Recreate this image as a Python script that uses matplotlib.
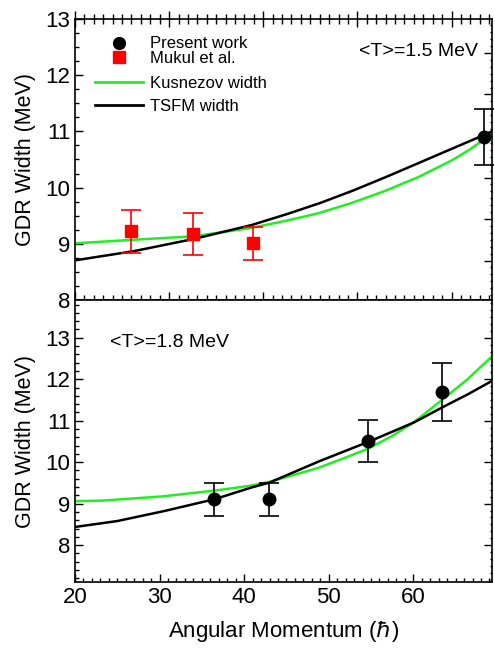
import numpy as np
import matplotlib
matplotlib.use('Agg')
from matplotlib import pyplot as plt
from matplotlib.ticker import MultipleLocator, NullFormatter
from matplotlib.lines import Line2D

plt.rcParams['font.family'] = ['Liberation Sans', 'DejaVu Sans']
plt.rcParams['mathtext.fontset'] = 'dejavusans'

# top panel, <T> = 1.5 MeV (own x scale)
mukul_j = [26.0, 32.5, 38.9]
mukul_w = [9.22, 9.17, 9.01]
mukul_err = [0.38, 0.37, 0.29]
top_j = [63.4]
top_w = [10.9]
top_err = [0.5]

top_kus_j = [20.2, 26.0, 32.5, 38.7, 42.2, 45.8, 49.3, 52.8, 56.4, 59.9, 61.7, 63.4, 64.3]
top_kus_w = [9.01, 9.07, 9.13, 9.28, 9.40, 9.54, 9.72, 9.93, 10.18, 10.47, 10.65, 10.85, 10.97]
top_tsfm_j = [20.2, 26.0, 32.5, 38.7, 42.2, 45.8, 49.3, 52.8, 56.4, 59.9, 63.4, 64.3]
top_tsfm_w = [8.71, 8.86, 9.08, 9.33, 9.51, 9.71, 9.93, 10.17, 10.43, 10.68, 10.93, 11.0]

# bottom panel, <T> = 1.8 MeV
bot_j = [36.4, 42.9, 54.7, 63.4]
bot_w = [9.10, 9.10, 10.51, 11.70]
bot_err = [0.4, 0.4, 0.5, 0.7]

bot_kus_j = [20.1, 23.0, 30.1, 36.4, 40.7, 42.9, 48.6, 51.5, 54.7, 57.4, 60.0, 63.4, 66.3, 69.3]
bot_kus_w = [9.06, 9.07, 9.17, 9.31, 9.43, 9.52, 9.85, 10.07, 10.33, 10.62, 10.95, 11.50, 11.98, 12.55]
bot_tsfm_j = [20.1, 25.0, 30.1, 36.4, 40.7, 42.9, 48.6, 54.7, 60.0, 63.4, 66.3, 69.3]
bot_tsfm_w = [8.44, 8.58, 8.80, 9.10, 9.38, 9.50, 10.0, 10.49, 10.95, 11.32, 11.62, 11.96]

green = '#22ee22'
lw = 1.8

fig = plt.figure(figsize=(4.95, 6.49), dpi=100)
ax1 = fig.add_axes([0.1515, 0.5378, 0.8424, 0.433])
ax2 = fig.add_axes([0.1515, 0.1032, 0.8424, 0.4345])

def dense(j, w):
    xs = np.linspace(j[0], j[-1], 300)
    return xs, np.interp(xs, j, w)

# top
ax1.plot(*dense(top_kus_j, top_kus_w), color=green, lw=lw)
ax1.plot(*dense(top_tsfm_j, top_tsfm_w), color='black', lw=lw)
ax1.errorbar(mukul_j, mukul_w, yerr=mukul_err, fmt='s', color='red', ms=8.5,
             capsize=7, elinewidth=1.2, capthick=1.2)
ax1.errorbar(top_j, top_w, yerr=top_err, fmt='o', color='black', ms=9,
             capsize=7, elinewidth=1.2, capthick=1.2, clip_on=False)
ax1.set_xlim(20, 64.3)
ax1.set_ylim(8, 13)
ax1.text(0.966, 0.883, '<T>=1.5 MeV', transform=ax1.transAxes, ha='right',
         va='center', fontsize=14)

h_pw = Line2D([], [], marker='o', color='black', ls='none', ms=8.5)
h_mk = Line2D([], [], marker='s', color='red', ls='none', ms=8)
leg1 = ax1.legend([h_pw, h_mk], ['Present work', 'Mukul et al.'], loc='upper left',
                  bbox_to_anchor=(0.057, 0.95), frameon=False, fontsize=12,
                  labelspacing=-0.02, handlelength=2.0, handletextpad=0.88,
                  borderpad=0.2, borderaxespad=0)
ax1.add_artist(leg1)
h_k = Line2D([], [], color=green, lw=2)
h_t = Line2D([], [], color='black', lw=2)
ax1.legend([h_k, h_t], ['Kusnezov width', 'TSFM width'], loc='upper left',
           bbox_to_anchor=(0.04, 0.808), frameon=False, fontsize=12,
           labelspacing=0.45, handlelength=2.9, handletextpad=0.4,
           borderpad=0.2, borderaxespad=0)

# bottom
ax2.plot(*dense(bot_kus_j, bot_kus_w), color=green, lw=lw)
ax2.plot(*dense(bot_tsfm_j, bot_tsfm_w), color='black', lw=lw)
ax2.errorbar(bot_j, bot_w, yerr=bot_err, fmt='o', color='black', ms=9,
             capsize=7, elinewidth=1.2, capthick=1.2)
ax2.set_xlim(20, 69.3)
ax2.set_ylim(7.11, 13.91)
ax2.text(0.084, 0.848, '<T>=1.8 MeV', transform=ax2.transAxes, ha='left',
         va='center', fontsize=14)

for ax in (ax1, ax2):
    ax.set_ylabel('GDR Width (MeV)', fontsize=15.5, labelpad=7)
    ax.yaxis.set_major_locator(MultipleLocator(1))
    ax.xaxis.set_major_locator(MultipleLocator(10))
    ax.xaxis.set_minor_locator(MultipleLocator(1))
    ax.tick_params(axis='y', which='both', direction='in', left=True, right=False,
                   labelsize=16)
    ax.tick_params(axis='y', which='major', length=6, width=1)
    ax.tick_params(axis='y', which='minor', length=3, width=1)
    for s in ax.spines.values():
        s.set_linewidth(1.2)

ax1.yaxis.set_minor_locator(MultipleLocator(0.25))
ax2.yaxis.set_minor_locator(MultipleLocator(0.2))

ax1.tick_params(axis='x', which='both', direction='inout', top=True, bottom=True,
                labelbottom=False)
ax1.tick_params(axis='x', which='major', length=12, width=1)
ax1.tick_params(axis='x', which='minor', length=7, width=1)
ax2.tick_params(axis='x', which='both', direction='in', top=False, bottom=True,
                labelsize=16)
ax2.tick_params(axis='x', which='major', length=6, width=1)
ax2.tick_params(axis='x', which='minor', length=3, width=1)
ax2.set_xlabel(r'Angular Momentum ($\hbar$)', fontsize=16, labelpad=8)

# right-hand axes with their own tick spacing
for ax, lim in ((ax1, (7.05, 13.82)), (ax2, (7.11, 13.91))):
    tw = ax.twinx()
    tw.set_ylim(*lim)
    tw.yaxis.set_major_locator(MultipleLocator(1))
    tw.yaxis.set_minor_locator(MultipleLocator(1 / 6))
    tw.yaxis.set_major_formatter(NullFormatter())
    tw.tick_params(axis='y', which='both', direction='in')
    tw.tick_params(axis='y', which='major', length=6, width=1)
    tw.tick_params(axis='y', which='minor', length=1.5, width=1)
    tw.tick_params(axis='x', which='both', top=False, bottom=False)
    for s in tw.spines.values():
        s.set_visible(False)

fig.savefig('out.png', dpi=100)
